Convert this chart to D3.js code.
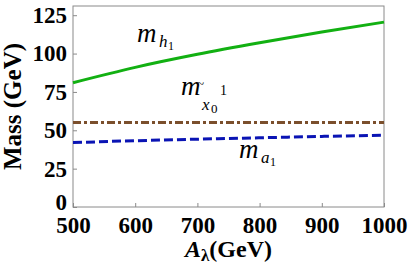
<!DOCTYPE html>
<html>
<head>
<meta charset="utf-8">
<script src="https://cdn.jsdelivr.net/npm/d3@7"></script>
</head>
<body style="margin:0">
<svg id="chart" width="409" height="273" style="font-family:'Liberation Serif', Tinos, 'Times New Roman', serif"></svg>
<script>
// data
const aLambda = [500, 600, 700, 800, 900, 1000];
const mH1 = [81, 91, 99.5, 107, 114, 120.5];
const mChi = [55, 55, 55, 55, 55, 55];
const mA1 = [42, 43.2, 44.2, 45.1, 46, 46.8];
const xTicks = [500, 600, 700, 800, 900, 1000];
const yTicks = [0, 25, 50, 75, 100, 125];

const FONT = "'Liberation Serif', Tinos, 'Times New Roman', serif";
const margin = { top: 6, right: 25, bottom: 66, left: 73 };
const width = 409, height = 273;
const plotW = width - margin.left - margin.right;
const plotH = height - margin.top - margin.bottom;

const svg = d3.select('#chart');
const chart = svg.append('g').attr('transform', `translate(${margin.left},${margin.top})`);

const x = d3.scaleLinear().domain([500, 1000]).range([0, plotW]);
const y = d3.scaleLinear().domain([0, 131]).range([plotH, 0]);

// frame
chart.append('rect')
  .attr('x', 0).attr('y', 0).attr('width', plotW).attr('height', plotH)
  .attr('fill', 'none').attr('stroke', '#8a8a8a').attr('stroke-width', 1);

// axes, ticks pointing inward
const xAxis = chart.append('g')
  .attr('transform', `translate(0,${plotH})`)
  .call(d3.axisBottom(x).tickValues(xTicks).tickSize(-4).tickPadding(9).tickFormat(d3.format('d')));
const yAxis = chart.append('g')
  .call(d3.axisLeft(y).tickValues(yTicks).tickSize(-4).tickPadding(6).tickFormat(d3.format('d')));
[xAxis, yAxis].forEach(a => {
  a.attr('font-family', null).style('font-family', FONT);
  a.select('.domain').remove();
  a.selectAll('.tick line').attr('stroke', '#8a8a8a');
  a.selectAll('.tick text')
    .style('font-family', FONT).style('font-weight', 'bold').style('font-size', '23px').attr('fill', '#000');
});
xAxis.selectAll('.tick text').attr('dy', '0.75em');
yAxis.selectAll('.tick text').attr('dy', '0.32em');
yAxis.selectAll('.tick').filter(d => d === 0).select('text').attr('dy', '0.1em');

const line = vals => d3.line()
  .x((d, i) => x(aLambda[i]))
  .y(d => y(d))
  .curve(d3.curveMonotoneX)(vals);

chart.append('path').attr('d', line(mChi))
  .attr('fill', 'none').attr('stroke', '#7b4f2c').attr('stroke-width', 3)
  .attr('stroke-dasharray', '8,3,3,3');
chart.append('path').attr('d', line(mA1))
  .attr('fill', 'none').attr('stroke', '#0a14b4').attr('stroke-width', 3)
  .attr('stroke-dasharray', '9,4');
chart.append('path').attr('d', line(mH1))
  .attr('fill', 'none').attr('stroke', '#12b012').attr('stroke-width', 3);

// curve labels
function label(xp, yp, size, txt, italic) {
  return svg.append('text').attr('x', xp).attr('y', yp)
    .style('font-family', FONT).style('font-size', size + 'px')
    .style('font-style', italic ? 'italic' : 'normal').attr('fill', '#000').text(txt);
}
label(137, 42, 27, 'm', true);
label(159, 47, 17, 'h', true);
label(168, 50, 12, '1', false);

label(181, 95, 27, 'm', true);
label(197, 88, 13, '~', false);
label(220, 95, 14, '1', false);
label(202, 110, 17, 'x', true);
label(211, 113, 13, '0', false);

label(239, 158, 27, 'm', true);
label(261, 163, 17, 'a', true);
label(270, 166, 12, '1', false);

// axis titles
const xt = svg.append('text')
  .attr('x', margin.left + plotW / 2).attr('y', 257)
  .attr('text-anchor', 'middle')
  .style('font-family', FONT).style('font-weight', 'bold').style('font-size', '24px');
xt.append('tspan').style('font-style', 'italic').text('A');
xt.append('tspan').style('font-size', '17px').attr('dy', 4).text('λ');
xt.append('tspan').attr('dy', -4).text('(GeV)');

svg.append('text')
  .attr('transform', `translate(21,${margin.top + plotH / 2}) rotate(-90)`)
  .attr('text-anchor', 'middle')
  .style('font-family', FONT).style('font-weight', 'bold').style('font-size', '25px')
  .text('Mass (GeV)');
</script>
</body>
</html>
